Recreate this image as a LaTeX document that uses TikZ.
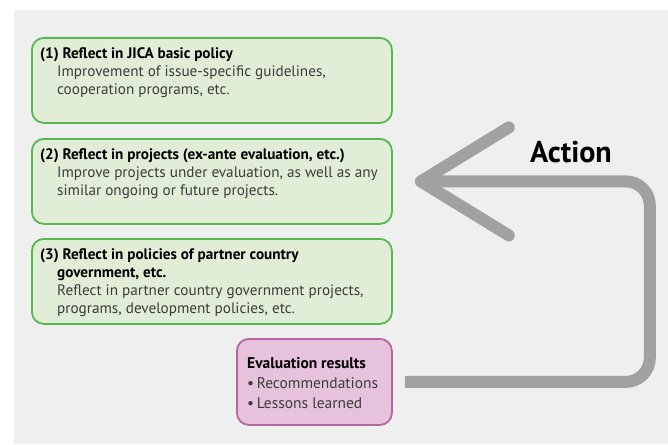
\documentclass[tikz,border=0pt]{standalone}
\usepackage{fontspec}
\setmainfont{PT Sans}
\usetikzlibrary{positioning}

\definecolor{panelgray}{HTML}{EFEFEF}
\definecolor{greenfill}{HTML}{E2EDD7}
\definecolor{greenline}{HTML}{55B94E}
\definecolor{pinkfill}{HTML}{E6C2DC}
\definecolor{pinkline}{HTML}{B8669F}
\definecolor{arrowgray}{HTML}{A0A1A0}
\definecolor{bodytext}{HTML}{3C3C3C}

\newcommand{\heading}[1]{\textbf{\color{black}#1}}

\tikzset{
  greenbox/.style={draw=greenline, fill=greenfill, line width=1.8pt, rounded corners=12pt,
    minimum width=360pt, minimum height=85pt, anchor=north west, inner sep=0pt},
  pinkbox/.style={draw=pinkline, fill=pinkfill, line width=1.8pt, rounded corners=12pt,
    minimum width=155pt, minimum height=86pt, anchor=north west, inner sep=0pt},
  boxtext/.style={align=left, inner sep=0pt, text=bodytext, font=\fontsize{15.2}{18.2}\selectfont},
  feedback/.style={draw=arrowgray, line width=12pt},
}

\begin{document}
\begin{tikzpicture}[x=1pt, y=-1pt]
	\useasboundingbox (0,0) rectangle (668,444);
	\fill[panelgray] (14,10) rectangle (668,444);

	% reflection boxes
	\node[greenbox] (policy) at (31,37) {};
	\node[greenbox] (projects) at (31,138) {};
	\node[greenbox] (partner) at (31,238) {};
	\node[pinkbox] (results) at (236,338) {};

	\node[boxtext, below right=10pt and 9pt of policy.north west] (policytext)
		{\heading{(1) Reflect in JICA basic policy}\\
		 \hspace*{17pt}Improvement of issue-specific guidelines,\\
		 \hspace*{17pt}cooperation programs, etc.};
	\node[boxtext, below right=10pt and 9pt of projects.north west] (projectstext)
		{\heading{(2) Reflect in projects (ex-ante evaluation, etc.)}\\
		 \hspace*{17pt}Improve projects under evaluation, as well as any\\
		 \hspace*{17pt}similar ongoing or future projects.};
	\node[boxtext, below right=10pt and 9pt of partner.north west] (partnertext)
		{\heading{(3) Reflect in policies of partner country}\\
		 \hspace*{17pt}\heading{government, etc.}\\
		 \hspace*{17pt}Reflect in partner country government projects,\\
		 \hspace*{17pt}programs, development policies, etc.};
	\node[boxtext, font=\fontsize{15.5}{20}\selectfont, below right=19pt and 11pt of results.north west] (resultstext)
		{\heading{Evaluation results}\\
		 \textbullet\,Recommendations\\
		 \textbullet\,Lessons learned};

	% action arrow
	\coordinate (tip) at ([xshift=28pt]projects.east);
	\draw[feedback, rounded corners=24pt] ([xshift=12pt]results.east) -- ++(245,0) |- (tip);
	\draw[feedback, line cap=round, line join=round] (tip) ++(88,-54) -- (tip) -- ++(88,54);
	\node[font=\fontsize{30}{34}\selectfont\bfseries] (action) at (571,152) {Action};
\end{tikzpicture}
\end{document}
